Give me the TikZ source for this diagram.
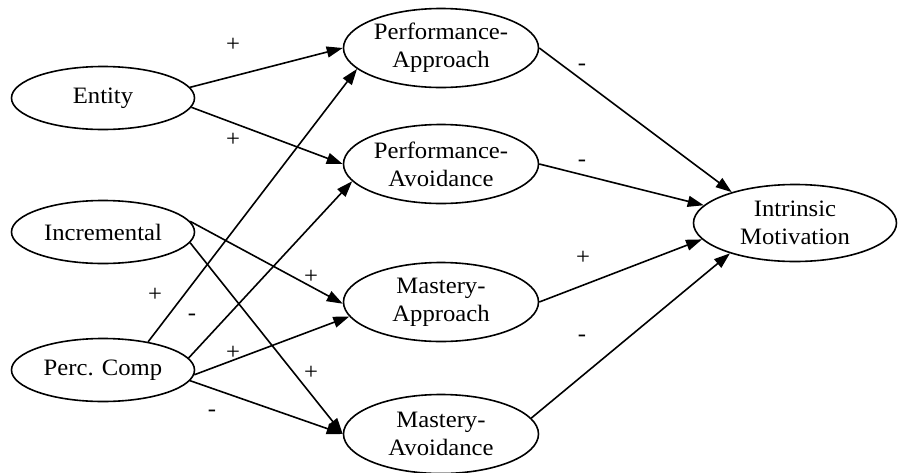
\documentclass[tikz,border=0pt]{standalone}
\usepackage{fontspec}
\setmainfont{Liberation Serif}[FakeStretch=1.05]
\usetikzlibrary{shapes.geometric,arrows.meta}

\begin{document}
\begin{tikzpicture}[>={Triangle[length=16pt,width=11pt]},x=1pt,y=-1pt,line width=1.6pt,
        var/.style={draw,ellipse,inner sep=0pt,align=center,font=\fontsize{23.5}{28}\selectfont},
        pred/.style={var,minimum width=183pt,minimum height=63pt},
        goal/.style={var,minimum width=195pt,minimum height=79pt},
        sgn/.style={font=\fontsize{23.5}{28}\selectfont}]
    \useasboundingbox (0,0) rectangle (898,472);
    \node[pred] (ent) at (103,98) {Entity};
    \node[pred] (inc) at (103,232) {Incremental};
    \node[pred] (pc) at (103,370) {Perc. Comp};
    \node[goal] (pa) at (441,48) {Performance-\\Approach};
    \node[goal] (pv) at (441,164) {Performance-\\Avoidance};
    \node[goal] (ma) at (441,302) {Mastery-\\Approach};
    \node[goal] (mv) at (441,434) {Mastery-\\Avoidance};
    \node[var,minimum width=203pt,minimum height=77pt] (im) at (795,223) {Intrinsic\\Motivation};
    \draw[->] (ent.7) -- (pa.west);
    \draw[->] (ent.-6) -- (pv.west);
    \draw[->] (inc.7) -- (ma.181);
    \draw[->] (inc.-7) -- (mv.west);
    \draw[->] (pc.32) -- (pa.194);
    \draw[->] (pc.8) -- (pv.191);
    \draw[->] (pc.-3) -- (ma.189);
    \draw[->] (pc.-7) -- (mv.west);
    \draw[->] (pa.east) -- (im.154);
    \draw[->] (pv.east) -- (im.169);
    \draw[->] (ma.east) -- (im.190);
    \draw[->] (mv.10) -- (im.205);
    \node[sgn] (s1) at (233,45) {+};
    \node[sgn] (s2) at (233,140) {+};
    \node[sgn] (s3) at (155,295) {+};
    \node[sgn] (s4) at (192,317) {-};
    \node[sgn] (s5) at (311,277) {+};
    \node[sgn] (s6) at (233,353) {+};
    \node[sgn] (s7) at (311,373) {+};
    \node[sgn] (s8) at (212,413) {-};
    \node[sgn] (s9) at (582,67) {-};
    \node[sgn] (s10) at (582,163) {-};
    \node[sgn] (s11) at (583,258) {+};
    \node[sgn] (s12) at (582,338) {-};
\end{tikzpicture}
\end{document}
